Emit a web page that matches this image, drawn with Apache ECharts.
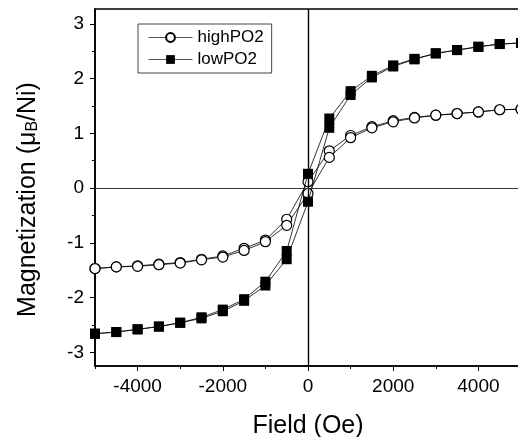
<!DOCTYPE html>
<html>
<head>
<meta charset="utf-8">
<script src="https://cdn.jsdelivr.net/npm/echarts@6/dist/echarts.min.js"></script>
<style>html,body{margin:0;padding:0;background:#fff;}#c{width:518px;height:437px;}</style>
</head>
<body>
<div id="c"></div>
<script>
// Field values (Oe), ascending
var fields = [-5000,-4500,-4000,-3500,-3000,-2500,-2000,-1500,-1000,-500,0,500,1000,1500,2000,2500,3000,3500,4000,4500,5000];
// highPO2: descending branch (from +5000) and ascending branch (from -5000), indexed like fields
var highDown = [-1.47,-1.44,-1.42,-1.39,-1.36,-1.30,-1.24,-1.10,-0.95,-0.57,0.115,0.68,0.96,1.12,1.23,1.29,1.33,1.36,1.39,1.43,1.44];
var highUp   = [-1.47,-1.44,-1.43,-1.40,-1.37,-1.31,-1.26,-1.14,-0.98,-0.68,-0.10,0.56,0.92,1.10,1.21,1.28,1.33,1.36,1.39,1.43,1.44];
// lowPO2
var lowDown = [-2.66,-2.63,-2.58,-2.53,-2.46,-2.36,-2.22,-2.03,-1.71,-1.15,0.26,1.27,1.77,2.05,2.24,2.36,2.46,2.52,2.58,2.63,2.65];
var lowUp   = [-2.66,-2.63,-2.58,-2.53,-2.46,-2.38,-2.25,-2.06,-1.78,-1.30,-0.25,1.10,1.70,2.02,2.22,2.35,2.46,2.52,2.58,2.63,2.65];
var xTicks = [-4000,-2000,0,2000,4000];
var xMinorTicks = [-5000,-3000,-1000,1000,3000,5000];
var yTicks = [-3,-2,-1,0,1,2,3];
var yMinorTicks = [-2.5,-1.5,-0.5,0.5,1.5,2.5];

function loop(down, up) {
  var d = [];
  for (var i = fields.length - 1; i >= 0; i--) d.push([fields[i], down[i]]);
  for (var j = 0; j < fields.length; j++) d.push([fields[j], up[j]]);
  return d;
}
function plain(v) { return String(v); }

var FONT = 'Liberation Sans, Arial, sans-serif';
var chart = echarts.init(document.getElementById('c'), null, {renderer: 'canvas'});
var xBase = {
  type: 'value', min: -5000, max: 5000, gridIndex: 0,
  splitLine: {show: false}
};
var yBase = {
  type: 'value', min: -3.25, max: 3.27, gridIndex: 0,
  splitLine: {show: false}
};
chart.setOption({
  animation: false,
  backgroundColor: '#fff',
  grid: {left: 95, right: -3, top: 9, bottom: 71, show: true, borderColor: '#000', borderWidth: 1.6,
         backgroundColor: 'transparent', containLabel: false, outerBoundsMode: 'none'},
  legend: {
    orient: 'vertical', left: 138, top: 24,
    data: ['highPO2', 'lowPO2'],
    itemWidth: 44, itemHeight: 11, itemGap: 5,
    padding: [5, 8, 5, 10],
    borderColor: '#444', borderWidth: 1,
    lineStyle: {color: '#555', width: 1},
    textStyle: {fontFamily: FONT, fontSize: 17, color: '#000'}
  },
  xAxis: [
    Object.assign({}, xBase, {
      position: 'bottom',
      name: 'Field (Oe)', nameLocation: 'middle', nameGap: 48,
      nameTextStyle: {fontFamily: FONT, fontSize: 25, color: '#000'},
      axisLine: {show: true, onZero: false, lineStyle: {color: '#000', width: 1.6}},
      axisTick: {show: true, inside: false, length: 5, customValues: xTicks, lineStyle: {color: '#000', width: 1}},
      axisLabel: {show: true, customValues: xTicks, formatter: plain, margin: 11, fontFamily: FONT, fontSize: 19, color: '#000'}
    }),
    Object.assign({}, xBase, {
      position: 'bottom',
      axisLine: {show: false, onZero: false},
      axisTick: {show: true, inside: false, length: 3, customValues: xMinorTicks, lineStyle: {color: '#000', width: 1}},
      axisLabel: {show: false}
    })
  ],
  yAxis: [
    Object.assign({}, yBase, {
      position: 'left',
      name: 'Magnetization (\u03bc{sub|B}/Ni)', nameLocation: 'middle', nameGap: 54, nameRotate: 90,
      nameTextStyle: {fontFamily: FONT, fontSize: 25, color: '#000', padding: [0, 24, 0, 0],
        rich: {sub: {fontFamily: FONT, fontSize: 16, color: '#000', verticalAlign: 'bottom', padding: [10, 0, 0, 0]}}},
      axisLine: {show: true, onZero: false, lineStyle: {color: '#000', width: 1.6}},
      axisTick: {show: true, inside: false, length: 5, customValues: yTicks, lineStyle: {color: '#000', width: 1}},
      axisLabel: {show: true, customValues: yTicks, formatter: plain, margin: 11, fontFamily: FONT, fontSize: 19, color: '#000'}
    }),
    Object.assign({}, yBase, {
      position: 'left',
      axisLine: {show: false, onZero: false},
      axisTick: {show: true, inside: false, length: 3, customValues: yMinorTicks, lineStyle: {color: '#000', width: 1}},
      axisLabel: {show: false}
    })
  ],
  series: [
    {
      name: 'highPO2', type: 'line', xAxisIndex: 0, yAxisIndex: 0,
      data: loop(highDown, highUp),
      symbol: 'circle', symbolSize: 10, showAllSymbol: true,
      lineStyle: {color: '#000', width: 0.8},
      itemStyle: {color: '#fff', borderColor: '#000', borderWidth: 1.2},
      z: 3,
      markLine: {
        silent: true, symbol: 'none', label: {show: false},
        data: [
          {xAxis: 0, lineStyle: {color: '#000', width: 1.4, type: 'solid'}},
          {yAxis: 0, lineStyle: {color: '#333', width: 1, type: 'solid'}}
        ]
      }
    },
    {
      name: 'lowPO2', type: 'line', xAxisIndex: 0, yAxisIndex: 0,
      data: loop(lowDown, lowUp),
      symbol: 'rect', symbolSize: 10, showAllSymbol: true,
      lineStyle: {color: '#000', width: 0.8},
      itemStyle: {color: '#000', borderColor: '#000', borderWidth: 0},
      z: 4
    }
  ]
});
</script>
</body>
</html>
